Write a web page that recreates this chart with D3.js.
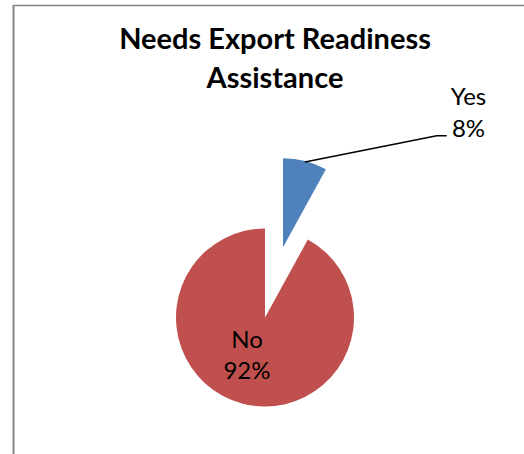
<!DOCTYPE html>
<html>
<head>
<meta charset="utf-8">
<script src="https://cdn.jsdelivr.net/npm/d3@7"></script>
<style>
  html, body { margin: 0; padding: 0; background: #fff; }
  svg { display: block; }
  text { font-family: Lato, "Open Sans", "Liberation Sans", sans-serif; fill: #000; }
</style>
</head>
<body>
<svg id="chart" width="524" height="454"></svg>
<script>
// Survey answers and their shares (percent)
const categories = ["Yes", "No"];
const shares = [8, 92];
const sliceColors = ["#4F81BD", "#C0504D"];
const titleLines = ["Needs Export Readiness", "Assistance"];

const W = 524, H = 454;
const cx = 265, cy = 317.5, radius = 89;
const explode = { Yes: 72.5, No: 0 };

const svg = d3.select("#chart");

// Chart area frame (top and left edges visible)
svg.append("line").attr("x1", 13.5).attr("y1", 5.5).attr("x2", W).attr("y2", 5.5)
  .attr("stroke", "#858585").attr("stroke-width", 1.6);
svg.append("line").attr("x1", 13.5).attr("y1", 5).attr("x2", 13.5).attr("y2", H)
  .attr("stroke", "#858585").attr("stroke-width", 2);

// Title
const title = svg.append("text")
  .attr("text-anchor", "middle")
  .attr("font-weight", "bold")
  .attr("font-size", 29);
title.selectAll("tspan").data(titleLines).join("tspan")
  .attr("x", 275)
  .attr("y", (d, i) => 49 + i * 39)
  .text(d => d);

const data = categories.map((c, i) => ({ name: c, value: shares[i], color: sliceColors[i] }));

const pie = d3.pie().sort(null).value(d => d.value);
const arcs = pie(data);
const arcGen = d3.arc().innerRadius(0).outerRadius(radius);

const g = svg.append("g").attr("transform", `translate(${cx},${cy})`);

function offset(a) {
  const mid = (a.startAngle + a.endAngle) / 2;
  const dist = explode[a.data.name] || 0;
  return [dist * Math.sin(mid), -dist * Math.cos(mid)];
}

g.selectAll("path.slice").data(arcs).join("path")
  .attr("class", "slice")
  .attr("d", arcGen)
  .attr("fill", d => d.data.color)
  .attr("transform", d => { const o = offset(d); return `translate(${o[0]},${o[1]})`; });

// Label for the exploded "Yes" slice with a leader line
const yes = arcs[0];
const yo = offset(yes);
const yMid = (yes.startAngle + yes.endAngle) / 2;
const startPt = [yo[0] + (radius - 1) * Math.sin(yMid), yo[1] - (radius - 1) * Math.cos(yMid)];
const elbow = [436.7 - cx, 135.7 - cy];
const endPt = [446.7 - cx, 135.7 - cy];
g.append("polyline")
  .attr("points", [startPt, elbow, endPt].map(p => p.join(",")).join(" "))
  .attr("fill", "none").attr("stroke", "#000").attr("stroke-width", 1.6);

const yesLabel = svg.append("text").attr("text-anchor", "middle").attr("font-size", 24);
yesLabel.append("tspan").attr("x", 468.5).attr("y", 105).text(yes.data.name);
yesLabel.append("tspan").attr("x", 468.5).attr("y", 137).text(yes.data.value + "%");

// Label inside the "No" slice
const no = arcs[1];
const noLabel = svg.append("text").attr("text-anchor", "middle").attr("font-size", 24);
noLabel.append("tspan").attr("x", 247).attr("y", 347.5).text(no.data.name);
noLabel.append("tspan").attr("x", 247).attr("y", 378.5).text(no.data.value + "%");
</script>
</body>
</html>
